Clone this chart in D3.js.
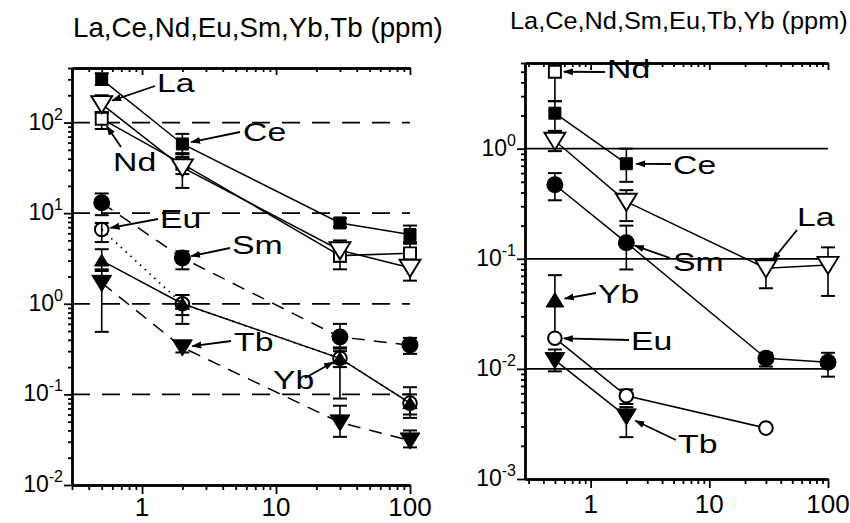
<!DOCTYPE html>
<html><head><meta charset="utf-8">
<script src="https://cdn.jsdelivr.net/npm/d3@7"></script>
<style>
body{margin:0;background:#fff}
svg{display:block}
text{font-family:"Liberation Sans",Arial,Helvetica,sans-serif;fill:#000}
</style>
</head><body><svg id="c" width="850" height="523"></svg>
<script>
// ---------------- DATA ----------------
const xValues = [0.5, 2, 30, 100];
const xTickLabels = ["1", "10", "100"];
const leftTitle = "La,Ce,Nd,Eu,Sm,Yb,Tb (ppm)";
const rightTitle = "La,Ce,Nd,Sm,Eu,Tb,Yb (ppm)";
const leftYTickExps = [-2, -1, 0, 1, 2];
const rightYTickExps = [-3, -2, -1, 0];

// Left panel
const leftLa   = [160, 32, 3.9, 2.5];
const leftLaLo = [130, 19, 2.4, 1.8];
const leftLaHi = [200, 45, 5.0, 3.2];
const leftCe   = [300, 58, 7.8, 5.8];
const leftCeLo = [260, 46, 7.0, 4.8];
const leftCeHi = [350, 75, 8.8, 7.3];
const leftNd   = [110, 35, 3.4, 3.6];
const leftNdLo = [85, 27, 2.9, 2.9];
const leftNdHi = [130, 42, 4.0, 4.6];
const leftEu   = [6.6, 1.0, 0.25, 0.08];
const leftEuLo = [4.8, 0.6, 0.2, 0.06];
const leftEuHi = [7.8, 1.25, 0.32, 0.12];
const leftSm   = [13, 3.2, 0.43, 0.35];
const leftSmLo = [9.5, 2.4, 0.33, 0.28];
const leftSmHi = [16.5, 3.8, 0.6, 0.42];
const leftYb   = [3.0, 1.0, 0.25, 0.08];
const leftYbLo = [2.4, 0.75, 0.09, 0.055];
const leftYbHi = [4.0, 1.25, 0.3, 0.1];
const leftTb   = [1.7, 0.33, 0.049, 0.031];
const leftTbLo = [0.49, 0.29, 0.034, 0.026];
const leftTbHi = [2.3, 0.37, 0.075, 0.04];

// Right panel
const rightNd   = [5.0, null, null, null];
const rightNdLo = [2.7, null, null, null];
const rightNdHi = [5.0, null, null, null];
const rightCe   = [2.1, 0.73, null, null];
const rightCeLo = [1.45, 0.5, null, null];
const rightCeHi = [2.7, 1.0, null, null];
const rightLa   = [1.18, 0.33, 0.082, 0.088];
const rightLaLo = [0.95, 0.22, 0.054, 0.046];
const rightLaHi = [1.45, 0.42, 0.1, 0.127];
const rightSm   = [0.47, 0.14, 0.0125, 0.0115];
const rightSmLo = [0.34, 0.08, 0.0105, 0.0085];
const rightSmHi = [0.6, 0.2, 0.014, 0.014];
const rightYb   = [0.042, null, null, null];
const rightYbLo = [0.02, null, null, null];
const rightYbHi = [0.071, null, null, null];
const rightEu   = [0.019, 0.0057, 0.0029, null];
const rightEuLo = [0.019, 0.0048, 0.0029, null];
const rightEuHi = [0.019, 0.0065, 0.0029, null];
const rightTb   = [0.012, 0.0037, null, null];
const rightTbLo = [0.0095, 0.0024, null, null];
const rightTbHi = [0.015, 0.0045, null, null];

// ---------------- DRAWING ----------------
const svg = d3.select("#c");
const defs = svg.append("defs");
defs.append("marker").attr("id","ah").attr("viewBox","0 -4 10 8")
  .attr("refX",9).attr("refY",0).attr("markerWidth",10).attr("markerHeight",8)
  .attr("markerUnits","userSpaceOnUse").attr("orient","auto")
  .append("path").attr("d","M0,-3.5L10,0L0,3.5Z").attr("fill","#000");

function logTicks(dom){
  const out=[];
  for(let e=Math.floor(Math.log10(dom[0]))-1;e<=Math.ceil(Math.log10(dom[1]));e++){
    for(let m=1;m<=9;m++){
      const v=+(m*Math.pow(10,e)).toPrecision(6);
      if(v>=dom[0]*0.999 && v<=dom[1]*1.001) out.push({v,major:m===1});
    }
  }
  return out;
}

function symbolPath(kind, s){
  if(kind==="square") return `M${-s/2},${-s/2}h${s}v${s}h${-s}Z`;
  if(kind==="down") return `M${-s*0.55},${-s*0.42}L${s*0.55},${-s*0.42}L0,${s*0.48}Z`;
  if(kind==="up") return `M${-s*0.55},${s*0.42}L${s*0.55},${s*0.42}L0,${-s*0.48}Z`;
  return null;
}

function drawPanel(p){
  const x = d3.scaleLog().domain(p.xDomain).range(p.xRange);
  const y = d3.scaleLog().domain(p.yDomain).range(p.yRange);
  const g = svg.append("g");
  const xt = logTicks(p.xDomain), yt = logTicks(p.yDomain);
  const majX = xt.filter(d=>d.major).map(d=>d.v), minX = xt.filter(d=>!d.major).map(d=>d.v);
  const majY = yt.filter(d=>d.major).map(d=>d.v), minY = yt.filter(d=>!d.major).map(d=>d.v);

  // horizontal reference lines
  g.selectAll(".hl").data(p.hLines).join("line")
    .attr("x1",p.xRange[0]).attr("x2",p.xRange[1])
    .attr("y1",d=>y(d)).attr("y2",d=>y(d))
    .attr("stroke","#000").attr("stroke-width",1.8)
    .attr("stroke-dasharray",p.hDash);

  // axes
  function ax(gen, tr, vals, size){
    const a = g.append("g").attr("transform",tr)
      .call(gen.tickValues(vals).tickSize(size).tickSizeOuter(0).tickFormat(""));
    a.selectAll("path").attr("stroke","#000").attr("stroke-width",2.4);
    a.selectAll("line").attr("stroke","#000").attr("stroke-width",1.8);
  }
  ax(d3.axisLeft(y), `translate(${p.xRange[0]},0)`, minY, 4);
  ax(d3.axisLeft(y), `translate(${p.xRange[0]},0)`, majY, 8);
  ax(d3.axisTop(x), `translate(0,${p.yRange[1]})`, minX, -4);
  ax(d3.axisTop(x), `translate(0,${p.yRange[1]})`, majX, -7);
  ax(d3.axisBottom(x), `translate(0,${p.yRange[0]})`, minX, 5);
  ax(d3.axisBottom(x), `translate(0,${p.yRange[0]})`, majX, 9);

  // y tick labels
  p.yExps.forEach(e=>{
    const t = g.append("text").attr("text-anchor","end")
      .attr("x",p.xRange[0]-9).attr("y",y(Math.pow(10,e))+7)
      .style("font-size","23px");
    t.append("tspan").text("10");
    t.append("tspan").attr("dy",-10).style("font-size","16px").text(String(e));
  });
  // x tick labels
  xTickLabels.forEach(s=>{
    g.append("text").attr("text-anchor","middle")
      .attr("x",x(+s)).attr("y",p.yRange[0]+p.xLabelDy)
      .style("font-size","26px").text(s);
  });
  // title, stretched horizontally to the reference width
  const tt = g.append("text").style("font-size",p.titleSize+"px").text(p.title);
  const w = tt.node().getComputedTextLength();
  tt.attr("transform",`translate(${p.titleX},${p.titleY}) scale(${p.titleLen/w},1)`);

  const pts = (vals)=>vals.map((v,i)=>({x:xValues[i],v})).filter(d=>d.v!=null);
  const line = d3.line().x(d=>x(d.x)).y(d=>y(d.v));

  // series lines
  p.series.forEach(s=>{
    const ps = pts(s.vals);
    if(ps.length<2) return;
    g.append("path").attr("d",line(ps)).attr("fill","none")
      .attr("stroke","#000").attr("stroke-width",s.dash==="dot"?1.8:1.5)
      .attr("stroke-dasharray",s.dash==="dash"?"13,9":s.dash==="dot"?"1.5,5":null);
  });
  // error bars
  p.series.forEach(s=>{
    s.vals.forEach((v,i)=>{
      if(v==null) return;
      const lo=s.lo[i], hi=s.hi[i];
      if(lo==null||hi==null||lo===hi) return;
      const cx=x(xValues[i]);
      g.append("line").attr("x1",cx).attr("x2",cx).attr("y1",y(lo)).attr("y2",y(hi))
        .attr("stroke","#000").attr("stroke-width",1.6);
      [lo,hi].forEach(b=>{
        if(b===v) return;
        g.append("line").attr("x1",cx-7).attr("x2",cx+7).attr("y1",y(b)).attr("y2",y(b))
          .attr("stroke","#000").attr("stroke-width",2);
      });
    });
  });
  // markers
  p.series.forEach(s=>{
    pts(s.vals).forEach(d=>{
      const cx=x(d.x), cy=y(d.v);
      const filled = s.filled;
      if(s.sym==="circle"){
        g.append("circle").attr("cx",cx).attr("cy",cy).attr("r",filled?7.5:6.8)
          .attr("fill",filled?"#000":(s.hollow?"none":"#fff")).attr("stroke","#000").attr("stroke-width",2);
      } else {
        g.append("path").attr("transform",`translate(${cx},${cy})`)
          .attr("d",symbolPath(s.sym,s.size))
          .attr("fill",filled?"#000":"#fff").attr("stroke","#000")
          .attr("stroke-width",filled?1:1.9).attr("stroke-linejoin","miter");
      }
    });
  });
  // annotations
  p.notes.forEach(n=>{
    const s = p.series.find(q=>q.name===n.name);
    const tx = x(xValues[n.idx]), ty = y(s.vals[n.idx]);
    const dx = tx-n.lx, dy = ty-n.ly, L=Math.hypot(dx,dy);
    const ex = tx - dx/L*n.gap, ey = ty - dy/L*n.gap;
    g.append("line").attr("x1",n.lx).attr("y1",n.ly).attr("x2",ex).attr("y2",ey)
      .attr("stroke","#000").attr("stroke-width",1.8).attr("marker-end","url(#ah)");
    g.append("text").attr("transform",`translate(${n.tx},${n.ty}) scale(1.3,1)`)
      .style("font-size","26px").text(n.name);
  });
}

drawPanel({
  xDomain:[0.3,100], xRange:[72,410], yDomain:[0.01,400], yRange:[485,68],
  hLines:[100,10,1,0.1], hDash:"18,12", yExps:leftYTickExps, xLabelDy:31,
  title:leftTitle, titleX:73, titleY:37, titleLen:370, titleSize:27,
  series:[
    {name:"Ce",vals:leftCe,lo:leftCeLo,hi:leftCeHi,sym:"square",size:12,filled:true,dash:null},
    {name:"Nd",vals:leftNd,lo:leftNdLo,hi:leftNdHi,sym:"square",size:12,filled:false,dash:null},
    {name:"La",vals:leftLa,lo:leftLaLo,hi:leftLaHi,sym:"down",size:19,filled:false,dash:null},
    {name:"Sm",vals:leftSm,lo:leftSmLo,hi:leftSmHi,sym:"circle",filled:true,dash:"dash"},
    {name:"Tb",vals:leftTb,lo:leftTbLo,hi:leftTbHi,sym:"down",size:18,filled:true,dash:"dash"},
    {name:"Yb",vals:leftYb,lo:leftYbLo,hi:leftYbHi,sym:"up",size:13,filled:true,dash:null},
    {name:"Eu",vals:leftEu,lo:leftEuLo,hi:leftEuHi,sym:"circle",filled:false,hollow:true,dash:"dot"}
  ],
  notes:[
    {name:"La",idx:0,lx:155,ly:86,tx:157,ty:92,gap:11},
    {name:"Ce",idx:1,lx:240,ly:132,tx:243,ty:141,gap:9},
    {name:"Nd",idx:0,lx:121,ly:147,tx:113,ty:171,gap:9},
    {name:"Eu",idx:0,lx:158,ly:219,tx:160,ty:228,gap:9},
    {name:"Sm",idx:1,lx:230,ly:248,tx:232,ty:254,gap:9},
    {name:"Tb",idx:1,lx:231,ly:341,tx:234,ty:351,gap:10},
    {name:"Yb",idx:2,lx:305,ly:378,tx:273,ty:389,gap:8}
  ]
});

drawPanel({
  xDomain:[0.28,100], xRange:[525,828], yDomain:[0.001,6], yRange:[479,63],
  hLines:[1,0.1,0.01], hDash:null, yExps:rightYTickExps, xLabelDy:34,
  title:rightTitle, titleX:510, titleY:29, titleLen:338, titleSize:24,
  series:[
    {name:"Nd",vals:rightNd,lo:rightNdLo,hi:rightNdHi,sym:"square",size:12,filled:false,dash:null},
    {name:"Ce",vals:rightCe,lo:rightCeLo,hi:rightCeHi,sym:"square",size:12,filled:true,dash:null},
    {name:"La",vals:rightLa,lo:rightLaLo,hi:rightLaHi,sym:"down",size:19,filled:false,dash:null},
    {name:"Sm",vals:rightSm,lo:rightSmLo,hi:rightSmHi,sym:"circle",filled:true,dash:null},
    {name:"Yb",vals:rightYb,lo:rightYbLo,hi:rightYbHi,sym:"up",size:16,filled:true,dash:null},
    {name:"Eu",vals:rightEu,lo:rightEuLo,hi:rightEuHi,sym:"circle",filled:false,dash:null},
    {name:"Tb",vals:rightTb,lo:rightTbLo,hi:rightTbHi,sym:"down",size:18,filled:true,dash:null}
  ],
  notes:[
    {name:"Nd",idx:0,lx:605,ly:72,tx:607,ty:78,gap:9},
    {name:"Ce",idx:1,lx:671,ly:164,tx:673,ty:174,gap:10},
    {name:"La",idx:2,lx:797,ly:230,tx:797,ty:226,gap:10},
    {name:"Sm",idx:1,lx:670,ly:258,tx:673,ty:271,gap:9},
    {name:"Yb",idx:0,lx:596,ly:293,tx:598,ty:303,gap:10},
    {name:"Eu",idx:0,lx:629,ly:340,tx:631,ty:350,gap:9},
    {name:"Tb",idx:1,lx:676,ly:440,tx:678,ty:453,gap:10}
  ]
});
</script>
</body></html>
